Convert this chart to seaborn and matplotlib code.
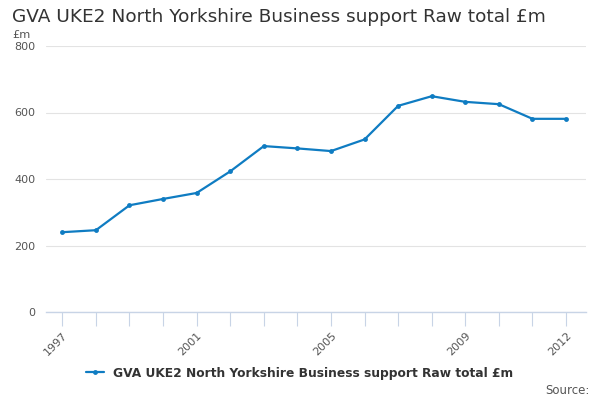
import matplotlib
matplotlib.use("Agg")
import matplotlib.pyplot as plt
import seaborn as sns
import pandas as pd

# data
years = list(range(1997, 2013))
values = [240, 246, 321, 340, 358, 423, 499, 492, 484, 519, 620, 649, 632, 625, 581, 581]
label_years = [1997, 2001, 2005, 2009, 2012]
y_ticks = [0, 200, 400, 600, 800]
series_name = "GVA UKE2 North Yorkshire Business support Raw total £m"
title = "GVA UKE2 North Yorkshire Business support Raw total £m"

df = pd.DataFrame({"year": years, "value": values, "series": series_name})

sns.set_theme(style="white")
plt.rcParams['font.family'] = ['DejaVu Sans']

line_color = "#0f7cc2"

fig = plt.figure(figsize=(6, 4), dpi=100)
ax = fig.add_axes([0.077, 0.22, 0.9, 0.665])

sns.lineplot(data=df, x="year", y="value", hue="series", palette=[line_color],
             marker="o", markersize=3.5, markeredgewidth=0, linewidth=1.6, ax=ax)

ax.set_xlim(1996.52, 2012.6)
ax.set_ylim(0, 800)
ax.set_yticks(y_ticks)
ax.set_yticklabels([str(v) for v in y_ticks], fontsize=8, color="#555555")
ax.yaxis.grid(True, color="#e3e3e3", linewidth=0.8)
ax.tick_params(axis="y", length=0, pad=8)

ax.set_xticks(years, minor=True)
ax.set_xticks(label_years)
ax.set_xticklabels([str(y) for y in label_years], rotation=45, ha="right",
                   rotation_mode="anchor", fontsize=8, color="#555555")
ax.tick_params(axis="x", which="both", length=10, width=0.8, color="#c8d4e6", bottom=True)
ax.tick_params(axis="x", which="major", pad=3)

for side in ["top", "right", "left"]:
    ax.spines[side].set_visible(False)
ax.spines["bottom"].set_color("#c8d4e6")
ax.spines["bottom"].set_linewidth(1)
ax.set_xlabel("")
ax.set_ylabel("")

fig.text(0.02, 0.957, title, fontsize=13.3, color="#333333", va="center", ha="left")
fig.text(0.02, 0.913, "£m", fontsize=8.2, color="#555555", va="center", ha="left")
fig.text(0.982, 0.025, "Source:", fontsize=8.5, color="#555555", ha="right", va="center")

handles, labels = ax.get_legend_handles_labels()
ax.legend(handles, labels, loc="center", bbox_to_anchor=(0.5, 0.0675),
          bbox_transform=fig.transFigure, frameon=False, handlelength=1.4,
          prop={"weight": "bold", "size": 8.8}, labelcolor="#333333")

fig.savefig("out.png", dpi=100)
